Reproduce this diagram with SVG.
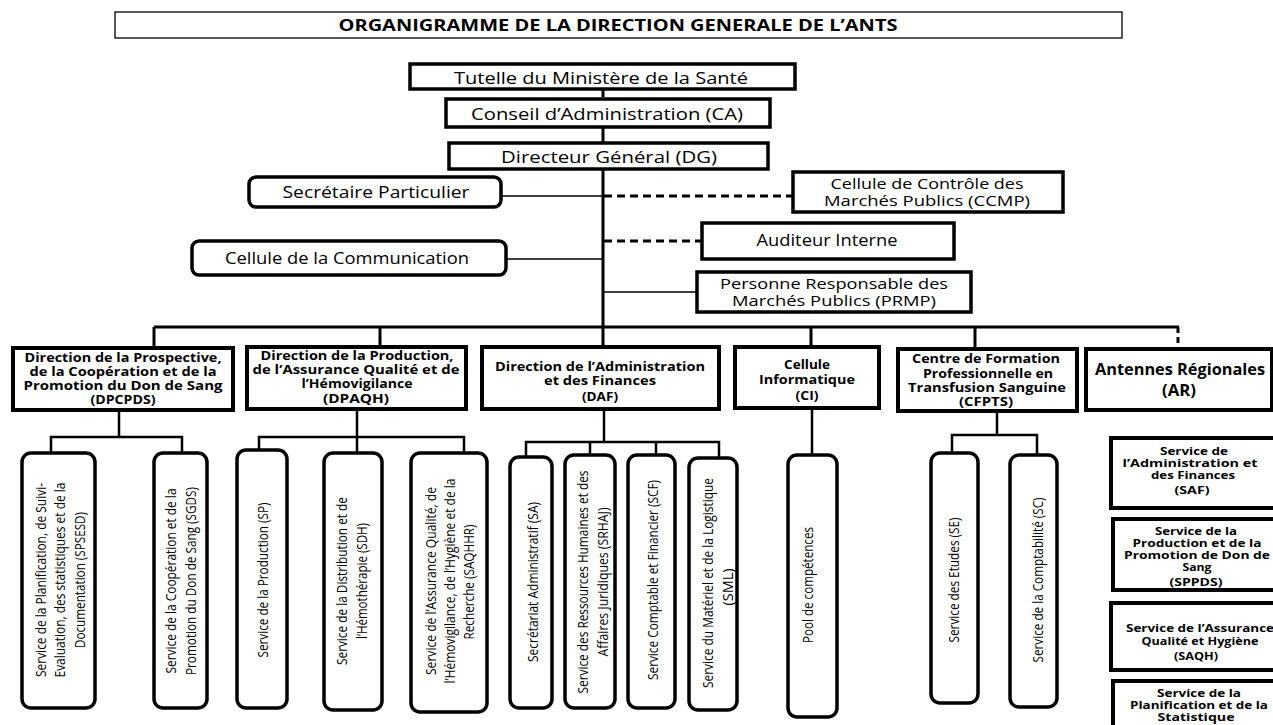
<svg xmlns="http://www.w3.org/2000/svg" width="1273" height="725" viewBox="0 0 1273 725">
<style>
.t{font-family:"Open Sans","Liberation Sans",sans-serif;font-size:16px;text-anchor:middle;dominant-baseline:central;fill:#000}
.b{font-weight:bold;font-size:12px}
.s{font-size:10.5px}
.r{font-size:14px}
.box{fill:#fff;stroke:#000;stroke-width:3.5}
.dir{fill:#fff;stroke:#000;stroke-width:4}
.sub{fill:#fff;stroke:#000;stroke-width:3.5}
.ln{stroke:#000;fill:none;stroke-width:3}
.th{stroke:#000;fill:none;stroke-width:1.6}
.sl{stroke:#000;fill:none;stroke-width:2.5}
.da{stroke:#000;fill:none;stroke-width:3;stroke-dasharray:8 5}
</style>
<rect width="1273" height="725" fill="#fff"/>

<g id="connectors">
<line class="da" x1="603" y1="89" x2="603" y2="99"/>
<line class="ln" x1="603" y1="127" x2="603" y2="143"/>
<line class="ln" x1="603" y1="169" x2="603" y2="327"/>
<line class="th" x1="501" y1="196" x2="603" y2="196"/>
<line class="da" x1="604" y1="196" x2="793" y2="196"/>
<line class="da" x1="604" y1="241" x2="702" y2="241"/>
<line class="th" x1="506" y1="259" x2="603" y2="259"/>
<line class="th" x1="603" y1="292" x2="697" y2="292"/>
<line class="ln" x1="154" y1="327" x2="1179" y2="327"/>
<line class="ln" x1="154" y1="327" x2="154" y2="348"/>
<line class="ln" x1="380" y1="327" x2="380" y2="347"/>
<line class="ln" x1="603" y1="327" x2="603" y2="347"/>
<line class="ln" x1="811" y1="327" x2="811" y2="347"/>
<line class="ln" x1="975" y1="327" x2="975" y2="349"/>
<line class="da" x1="1178" y1="327" x2="1178" y2="349" style="stroke-dasharray:6 4"/>
<path class="sl" d="M119 410V437M51 453V437H182V453"/>
<path class="sl" d="M357 409V453M259 450V437H464V453"/>
<path class="sl" d="M604 409V442M526 457V442H719V458M590 442V455M656 442V455"/>
<path class="sl" d="M812 408V455"/>
<path class="sl" d="M997 411V435M952 453V435H1037V455"/>
</g>

<g id="title"><rect x="115" y="12" width="1007" height="26" fill="#fff" stroke="#000" stroke-width="1.3"/>
<text class="t" x="618" y="25" style="font-weight:bold;font-size:15.5px" textLength="559" lengthAdjust="spacingAndGlyphs">ORGANIGRAMME DE LA DIRECTION GENERALE DE L’ANTS</text></g>

<g id="tutelle"><rect class="box" x="410" y="64" width="385" height="25"/>
<text class="t" x="601" y="77" style="font-size:17px" textLength="294" lengthAdjust="spacingAndGlyphs">Tutelle du Ministère de la Santé</text></g>
<g id="ca"><rect class="box" x="446" y="99" width="324" height="28"/>
<text class="t" x="607" y="113" style="font-size:17px" textLength="272" lengthAdjust="spacingAndGlyphs">Conseil d’Administration (CA)</text></g>
<g id="dg"><rect class="box" x="449" y="143" width="319" height="26"/>
<text class="t" x="609" y="156" style="font-size:17px" textLength="216" lengthAdjust="spacingAndGlyphs">Directeur Général (DG)</text></g>

<g id="secretaire"><rect class="box" x="249" y="177" width="252" height="30" rx="7"/>
<text class="t" x="376" y="192" textLength="187" lengthAdjust="spacingAndGlyphs">Secrétaire Particulier</text></g>
<g id="ccmp"><rect class="box" x="793" y="172" width="270" height="40"/>
<text class="t" x="927" y="183" style="font-size:15px" textLength="193" lengthAdjust="spacingAndGlyphs">Cellule de Contrôle des</text>
<text class="t" x="927" y="200" style="font-size:15px" textLength="206" lengthAdjust="spacingAndGlyphs">Marchés Publics (CCMP)</text></g>
<g id="auditeur"><rect class="box" x="702" y="223" width="252" height="36"/>
<text class="t" x="827" y="240" textLength="141" lengthAdjust="spacingAndGlyphs">Auditeur Interne</text></g>
<g id="communication"><rect class="box" x="192" y="241" width="314" height="34" rx="7"/>
<text class="t" x="347" y="258" textLength="244" lengthAdjust="spacingAndGlyphs">Cellule de la Communication</text></g>
<g id="prmp"><rect class="box" x="697" y="272" width="274" height="40"/>
<text class="t" x="834" y="283" style="font-size:15px" textLength="228" lengthAdjust="spacingAndGlyphs">Personne Responsable des</text>
<text class="t" x="834" y="300" style="font-size:15px" textLength="204" lengthAdjust="spacingAndGlyphs">Marchés Publics (PRMP)</text></g>

<g id="dpcpds"><rect class="dir" x="13" y="348" width="220" height="62"/>
<text class="t b" x="123" y="357" textLength="197" lengthAdjust="spacingAndGlyphs">Direction de la Prospective,</text>
<text class="t b" x="123" y="371" textLength="187" lengthAdjust="spacingAndGlyphs">de la Coopération et de la</text>
<text class="t b" x="123" y="385" textLength="199" lengthAdjust="spacingAndGlyphs">Promotion du Don de Sang</text>
<text class="t b" x="123" y="399" textLength="65" lengthAdjust="spacingAndGlyphs">(DPCPDS)</text></g>
<g id="dpaqh"><rect class="dir" x="247" y="347" width="219" height="62"/>
<text class="t b" x="357" y="355" textLength="193" lengthAdjust="spacingAndGlyphs">Direction de la Production,</text>
<text class="t b" x="356" y="369" textLength="207" lengthAdjust="spacingAndGlyphs">de l’Assurance Qualité et de</text>
<text class="t b" x="357" y="383" textLength="111" lengthAdjust="spacingAndGlyphs">l’Hémovigilance</text>
<text class="t b" x="356" y="398" textLength="66" lengthAdjust="spacingAndGlyphs">(DPAQH)</text></g>
<g id="daf"><rect class="dir" x="482" y="347" width="237" height="62"/>
<text class="t b" x="600" y="366" textLength="210" lengthAdjust="spacingAndGlyphs">Direction de l’Administration</text>
<text class="t b" x="600" y="380" textLength="112" lengthAdjust="spacingAndGlyphs">et des Finances</text>
<text class="t b" x="600" y="396" textLength="36" lengthAdjust="spacingAndGlyphs">(DAF)</text></g>
<g id="ci"><rect class="dir" x="735" y="347" width="144" height="61"/>
<text class="t b" x="807" y="364" textLength="46" lengthAdjust="spacingAndGlyphs">Cellule</text>
<text class="t b" x="807" y="379" textLength="96" lengthAdjust="spacingAndGlyphs">Informatique</text>
<text class="t b" x="807" y="395" textLength="23" lengthAdjust="spacingAndGlyphs">(CI)</text></g>
<g id="cfpts"><rect class="dir" x="898" y="349" width="179" height="62"/>
<text class="t b" x="986" y="358" textLength="148" lengthAdjust="spacingAndGlyphs">Centre de Formation</text>
<text class="t b" x="988" y="373" textLength="130" lengthAdjust="spacingAndGlyphs">Professionnelle en</text>
<text class="t b" x="987" y="387" textLength="158" lengthAdjust="spacingAndGlyphs">Transfusion Sanguine</text>
<text class="t b" x="986" y="401" textLength="54" lengthAdjust="spacingAndGlyphs">(CFPTS)</text></g>
<g id="ar"><rect class="dir" x="1086" y="349" width="186" height="61"/>
<text class="t b" x="1180" y="369" style="font-size:16px" textLength="170" lengthAdjust="spacingAndGlyphs">Antennes Régionales</text>
<text class="t b" x="1179" y="390" style="font-size:16px" textLength="34" lengthAdjust="spacingAndGlyphs">(AR)</text></g>

<g id="spsesd"><rect class="sub" x="22" y="453" width="73" height="255" rx="9"/>
<text class="t r" transform="translate(40,580) rotate(-90)" textLength="194" lengthAdjust="spacingAndGlyphs">Service de la Planification, de Suivi-</text>
<text class="t r" transform="translate(59,580) rotate(-90)" textLength="195" lengthAdjust="spacingAndGlyphs">Evaluation, des statistiques et de la</text>
<text class="t r" transform="translate(79,580) rotate(-90)" textLength="136" lengthAdjust="spacingAndGlyphs">Documentation (SPSESD)</text></g>
<g id="sgds"><rect class="sub" x="154" y="453" width="53" height="255" rx="9"/>
<text class="t r" transform="translate(170,581) rotate(-90)" textLength="185" lengthAdjust="spacingAndGlyphs">Service de la Coopération et de la</text>
<text class="t r" transform="translate(190,581) rotate(-90)" textLength="188" lengthAdjust="spacingAndGlyphs">Promotion du Don de Sang (SGDS)</text></g>
<g id="sp"><rect class="sub" x="237" y="450" width="50" height="258" rx="9"/>
<text class="t r" transform="translate(262,580) rotate(-90)" textLength="155" lengthAdjust="spacingAndGlyphs">Service de la Production (SP)</text></g>
<g id="sdh"><rect class="sub" x="324" y="453" width="58" height="257" rx="9"/>
<text class="t r" transform="translate(341,581) rotate(-90)" textLength="168" lengthAdjust="spacingAndGlyphs">Service de la Distribution et de</text>
<text class="t r" transform="translate(361,581) rotate(-90)" textLength="116" lengthAdjust="spacingAndGlyphs">l’Hémothérapie (SDH)</text></g>
<g id="saqhhr"><rect class="sub" x="411" y="453" width="76" height="259" rx="9"/>
<text class="t r" transform="translate(430,581) rotate(-90)" textLength="188" lengthAdjust="spacingAndGlyphs">Service de l’Assurance Qualité, de</text>
<text class="t r" transform="translate(449,581) rotate(-90)" textLength="205" lengthAdjust="spacingAndGlyphs">l’Hémovigilance, de l’Hygiène et de la</text>
<text class="t r" transform="translate(468,582) rotate(-90)" textLength="115" lengthAdjust="spacingAndGlyphs">Recherche (SAQHHR)</text></g>
<g id="sa"><rect class="sub" x="510" y="457" width="42" height="251" rx="9"/>
<text class="t r" transform="translate(532,582) rotate(-90)" textLength="160" lengthAdjust="spacingAndGlyphs">Secrétariat Administratif (SA)</text></g>
<g id="srhaj"><rect class="sub" x="565" y="455" width="50" height="253" rx="9"/>
<text class="t r" transform="translate(582,582) rotate(-90)" textLength="223" lengthAdjust="spacingAndGlyphs">Service des Ressources Humaines et des</text>
<text class="t r" transform="translate(602,582) rotate(-90)" textLength="149" lengthAdjust="spacingAndGlyphs">Affaires Juridiques (SRHAJ)</text></g>
<g id="scf"><rect class="sub" x="628" y="455" width="47" height="253" rx="9"/>
<text class="t r" transform="translate(652,580) rotate(-90)" textLength="200" lengthAdjust="spacingAndGlyphs">Service Comptable et Financier (SCF)</text></g>
<g id="sml"><rect class="sub" x="689" y="458" width="48" height="252" rx="9"/>
<text class="t r" transform="translate(707,583) rotate(-90)" textLength="210" lengthAdjust="spacingAndGlyphs">Service du Matériel et de la Logistique</text>
<text class="t r" transform="translate(727,587) rotate(-90)" textLength="37" lengthAdjust="spacingAndGlyphs">(SML)</text></g>
<g id="pool"><rect class="sub" x="788" y="455" width="49" height="262" rx="9"/>
<text class="t r" transform="translate(807,585) rotate(-90)" textLength="116" lengthAdjust="spacingAndGlyphs">Pool de compétences</text></g>
<g id="se"><rect class="sub" x="931" y="453" width="47" height="250" rx="9"/>
<text class="t r" transform="translate(953,580) rotate(-90)" textLength="125" lengthAdjust="spacingAndGlyphs">Service des Etudes (SE)</text></g>
<g id="sc"><rect class="sub" x="1010" y="455" width="47" height="252" rx="9"/>
<text class="t r" transform="translate(1037,580) rotate(-90)" textLength="165" lengthAdjust="spacingAndGlyphs">Service de la Comptabilité (SC)</text></g>

<g id="saf"><rect class="dir" x="1111" y="438" width="172" height="70"/>
<text class="t b s" x="1194" y="451" textLength="68" lengthAdjust="spacingAndGlyphs">Service de</text>
<text class="t b s" x="1190" y="463" textLength="135" lengthAdjust="spacingAndGlyphs">l’Administration et</text>
<text class="t b s" x="1193" y="475" textLength="84" lengthAdjust="spacingAndGlyphs">des Finances</text>
<text class="t b s" x="1192" y="490" textLength="35" lengthAdjust="spacingAndGlyphs">(SAF)</text></g>
<g id="sppds"><rect class="dir" x="1113" y="519" width="170" height="71"/>
<text class="t b s" x="1196" y="531" textLength="82" lengthAdjust="spacingAndGlyphs">Service de la</text>
<text class="t b s" x="1197" y="543" textLength="129" lengthAdjust="spacingAndGlyphs">Production et de la</text>
<text class="t b s" x="1197" y="555" textLength="146" lengthAdjust="spacingAndGlyphs">Promotion de Don de</text>
<text class="t b s" x="1197" y="567" textLength="29" lengthAdjust="spacingAndGlyphs">Sang</text>
<text class="t b s" x="1196" y="582" textLength="53" lengthAdjust="spacingAndGlyphs">(SPPDS)</text></g>
<g id="saqh"><rect class="dir" x="1111" y="603" width="172" height="67"/>
<text class="t b s" x="1200" y="628" textLength="148" lengthAdjust="spacingAndGlyphs">Service de l’Assurance</text>
<text class="t b s" x="1200" y="641" textLength="117" lengthAdjust="spacingAndGlyphs">Qualité et Hygiène</text>
<text class="t b s" x="1196" y="656" textLength="44" lengthAdjust="spacingAndGlyphs">(SAQH)</text></g>
<g id="sps"><rect class="dir" x="1113" y="681" width="170" height="60"/>
<text class="t b s" x="1199" y="693" textLength="84" lengthAdjust="spacingAndGlyphs">Service de la</text>
<text class="t b s" x="1199" y="705" textLength="138" lengthAdjust="spacingAndGlyphs">Planification et de la</text>
<text class="t b s" x="1196" y="717" textLength="77" lengthAdjust="spacingAndGlyphs">Statistique</text></g>
</svg>
